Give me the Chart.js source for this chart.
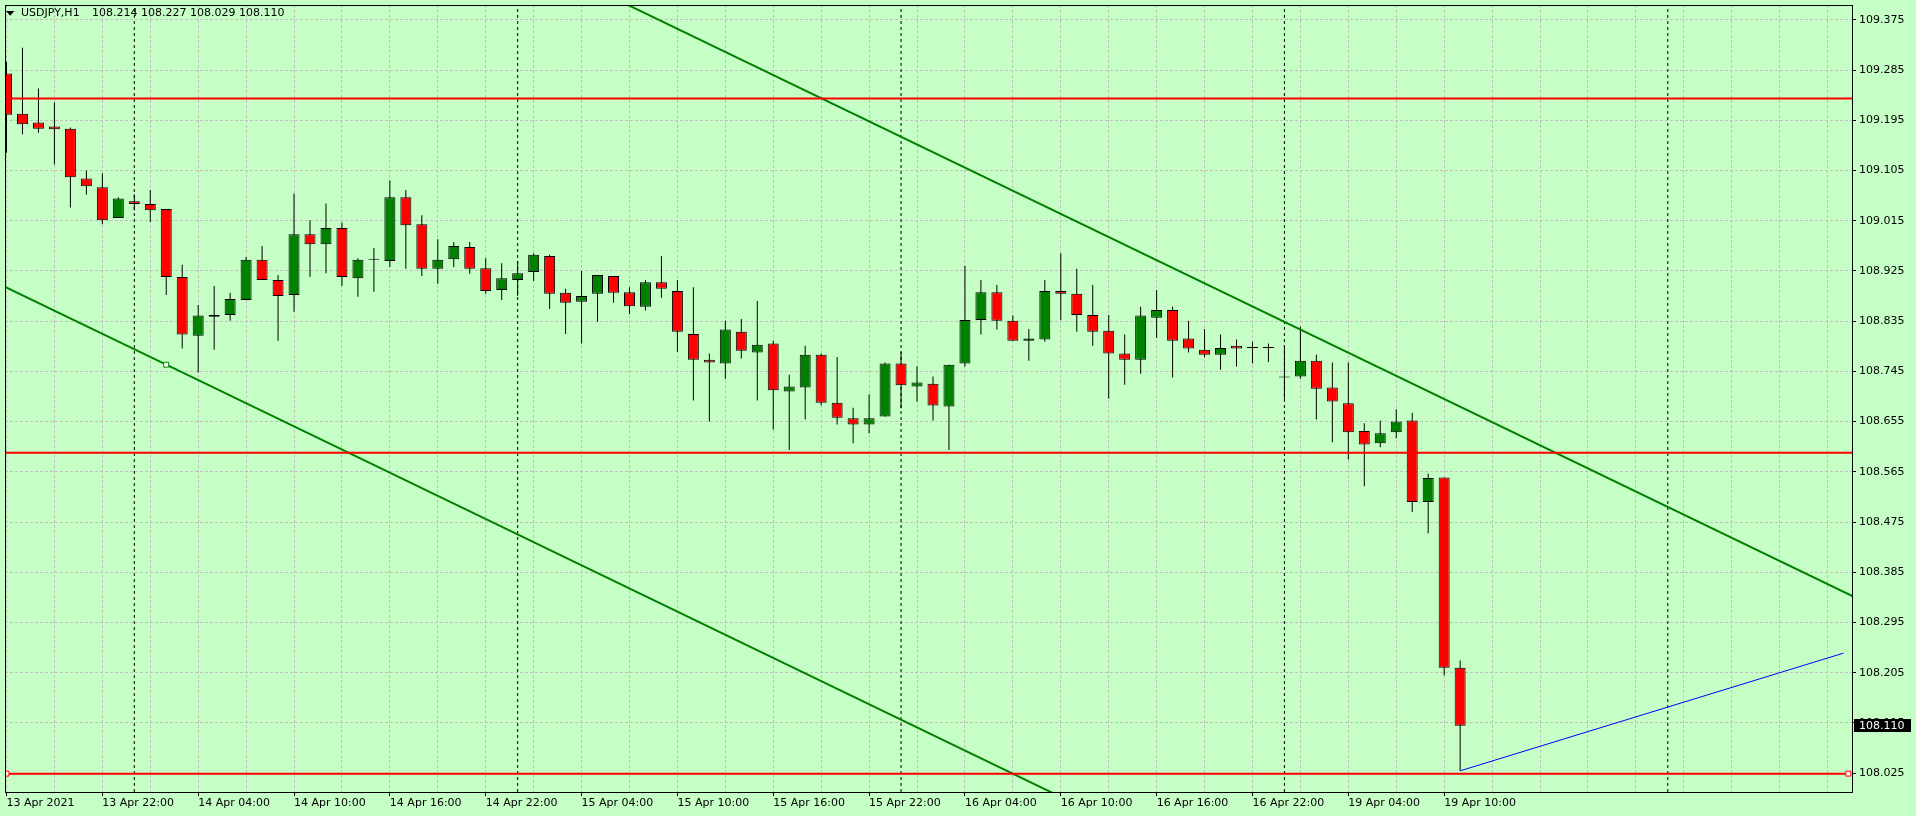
<!DOCTYPE html>
<html>
<head>
<meta charset="utf-8">
<script src="https://cdn.jsdelivr.net/npm/chart.js@4.4.1/dist/chart.umd.min.js"></script>
<style>
html,body{margin:0;padding:0;background:#c6ffc6;overflow:hidden;}
#wrap{position:relative;width:1916px;height:816px;}
canvas{display:block;}
.ttl{position:absolute;top:6px;font-family:'DejaVu Sans';font-size:11px;line-height:13px;color:#000;white-space:pre;}
#tri{left:6px;top:6px;font-size:11px;transform:scale(1,0.55);transform-origin:50% 55%;}
</style>
</head>
<body>
<div id="wrap">
<canvas id="c" width="1916" height="816"></canvas>
<div class="ttl" id="tri">▼</div>
<div class="ttl" id="sym" style="left:21px"></div>
<div class="ttl" id="ohlc" style="left:92px"></div>
</div>
<script>
// ---------- DATA ----------
const symbolName = 'USDJPY,H1';

// x-axis labels, one every 6 hourly bars (bar 0, 6, 12, ...)
const xTickLabels = ['13 Apr 2021','13 Apr 22:00','14 Apr 04:00','14 Apr 10:00','14 Apr 16:00','14 Apr 22:00',
  '15 Apr 04:00','15 Apr 10:00','15 Apr 16:00','15 Apr 22:00','16 Apr 04:00','16 Apr 10:00','16 Apr 16:00',
  '16 Apr 22:00','19 Apr 04:00','19 Apr 10:00'];

// price axis tick labels
const yTickValues = [109.375,109.285,109.195,109.105,109.015,108.925,108.835,108.745,108.655,
  108.565,108.475,108.385,108.295,108.205,108.115,108.025];

// hourly candles (bar index = position)
const opens = [109.279,109.207,109.191,109.184,109.180,109.091,109.075,109.020,109.050,109.045,
  109.036,108.914,108.809,108.843,108.846,108.873,108.945,108.909,108.882,108.991,
  108.973,109.002,108.912,108.945,108.943,109.057,109.009,108.929,108.946,108.968,
  108.930,108.891,108.909,108.923,108.952,108.886,108.870,108.884,108.916,108.887,
  108.861,108.905,108.889,108.812,108.766,108.759,108.816,108.779,108.795,108.709,
  108.716,108.775,108.689,108.661,108.650,108.664,108.759,108.718,108.723,108.682,
  108.759,108.837,108.887,108.836,108.800,108.802,108.889,108.884,108.846,108.818,
  108.777,108.766,108.841,108.855,108.804,108.784,108.775,108.791,108.787,108.787,
  108.734,108.736,108.764,108.716,108.688,108.638,108.616,108.636,108.657,108.511,
  108.555,108.214];
const highs = [109.300,109.325,109.252,109.227,109.182,109.105,109.100,109.057,109.062,109.070,
  109.036,108.936,108.864,108.898,108.886,108.950,108.970,108.918,109.064,109.016,
  109.046,109.012,108.948,108.966,109.087,109.070,109.025,108.982,108.977,108.977,
  108.948,108.939,108.943,108.957,108.954,108.893,108.925,108.918,108.916,108.896,
  108.909,108.952,108.909,108.896,108.777,108.836,108.839,108.871,108.800,108.739,
  108.791,108.777,108.771,108.680,108.704,108.761,108.780,108.754,108.736,108.757,
  108.934,108.909,108.900,108.845,108.821,108.909,108.957,108.929,108.900,108.846,
  108.811,108.861,108.891,108.861,108.836,108.821,108.811,108.802,108.798,108.795,
  108.791,108.825,108.775,108.761,108.761,108.652,108.657,108.677,108.671,108.562,
  108.555,108.227];
const lows = [109.137,109.170,109.173,109.116,109.039,109.062,109.009,109.020,109.034,109.013,
  108.882,108.786,108.743,108.784,108.836,108.873,108.909,108.800,108.852,108.914,
  108.921,108.898,108.879,108.888,108.932,108.929,108.916,108.902,108.932,108.920,
  108.884,108.873,108.880,108.907,108.857,108.812,108.795,108.834,108.868,108.848,
  108.854,108.877,108.780,108.693,108.655,108.732,108.768,108.693,108.641,108.604,
  108.659,108.684,108.650,108.616,108.634,108.664,108.679,108.691,108.657,108.604,
  108.754,108.811,108.820,108.800,108.764,108.798,108.837,108.816,108.791,108.696,
  108.721,108.741,108.805,108.734,108.779,108.770,108.748,108.754,108.759,108.762,
  108.696,108.732,108.659,108.618,108.587,108.539,108.609,108.625,108.493,108.455,
  108.200,108.029];
const closes = [109.205,109.188,109.180,109.179,109.093,109.077,109.016,109.055,109.045,109.034,
  108.914,108.811,108.845,108.846,108.875,108.945,108.909,108.880,108.991,108.973,
  109.002,108.914,108.945,108.945,109.057,109.007,108.929,108.945,108.970,108.929,
  108.889,108.912,108.921,108.954,108.884,108.868,108.880,108.918,108.886,108.862,
  108.905,108.893,108.816,108.766,108.761,108.820,108.782,108.793,108.711,108.718,
  108.775,108.689,108.662,108.650,108.661,108.759,108.720,108.725,108.684,108.757,
  108.837,108.887,108.836,108.800,108.804,108.889,108.884,108.846,108.816,108.777,
  108.766,108.845,108.855,108.800,108.786,108.775,108.787,108.786,108.787,108.787,
  108.734,108.764,108.714,108.691,108.636,108.614,108.634,108.655,108.511,108.554,
  108.214,108.110];

// drawn objects (bar index, price)
const resistanceLevels = [109.234, 108.599];
const supportLevel = 108.024;
const supportAnchors = [0, 115.3];
const upperChannel = [[30, 109.525], [116, 108.336]];
const lowerChannel = [[-1, 108.909], [10, 108.757], [70, 107.927]];
const projectionLine = [[91, 108.029], [115, 108.240]];
const daySeparators = [8, 32, 56, 80, 104];

// ---------- VIEW ----------
const X_MIN = -0.09375, X_MAX = 115.53125;
const Y_MIN = 107.99107, Y_MAX = 109.40179;
const GREEN = '#008000', RED = '#ff0000';

const last = closes.length - 1;
document.getElementById('sym').textContent = symbolName;
document.getElementById('ohlc').textContent =
  [opens[last], highs[last], lows[last], closes[last]].map(v => v.toFixed(3)).join(' ');

const idx = opens.map((_, i) => i);
const candleColor = i => closes[i] > opens[i] ? GREEN : (closes[i] < opens[i] ? RED : '#000000');

const datasets = [];
// candle bodies
datasets.push({
  type: 'bar', order: 2,
  data: idx.map(i => ({x: i, y: [opens[i], closes[i]]})),
  backgroundColor: ctx => candleColor(ctx.dataIndex),
  borderColor: '#000', borderWidth: 1, borderSkipped: false,
  barThickness: 11, grouped: false, minBarLength: 1, inflateAmount: 0
});
// wicks
datasets.push({
  type: 'bar', order: 3,
  data: idx.map(i => ({x: i, y: [lows[i], highs[i]]})),
  backgroundColor: '#000', borderWidth: 0,
  barThickness: 1, grouped: false, inflateAmount: 0
});
// day separators
daySeparators.forEach(d => datasets.push({
  type: 'line', order: 5,
  data: [{x: d, y: Y_MIN}, {x: d, y: Y_MAX}],
  borderColor: '#000', borderWidth: 1, borderDash: [3, 3], pointRadius: 0
}));
// horizontal levels
resistanceLevels.forEach(v => datasets.push({
  type: 'line', order: 0,
  data: [{x: X_MIN - 1, y: v}, {x: X_MAX + 1, y: v}],
  borderColor: RED, borderWidth: 2, pointRadius: 0
}));
datasets.push({
  type: 'line', order: 0,
  data: supportAnchors.map(a => ({x: a, y: supportLevel})),
  borderColor: RED, borderWidth: 2,
  pointStyle: 'rect', pointRadius: 3.5, pointBorderColor: RED, pointBorderWidth: 1,
  pointBackgroundColor: '#ffffff'
});
// channel
datasets.push({
  type: 'line', order: 0,
  data: upperChannel.map(p => ({x: p[0], y: p[1]})),
  borderColor: GREEN, borderWidth: 2, pointRadius: 0
});
datasets.push({
  type: 'line', order: 0,
  data: lowerChannel.map(p => ({x: p[0], y: p[1]})),
  borderColor: GREEN, borderWidth: 2,
  pointStyle: 'rect', pointRadius: [0, 3.5, 0], pointBorderColor: GREEN, pointBorderWidth: 1,
  pointBackgroundColor: '#ffffff'
});
datasets.push({
  type: 'line', order: 0,
  data: projectionLine.map(p => ({x: p[0], y: p[1]})),
  borderColor: '#0000ff', borderWidth: 1, pointRadius: 0
});

const gridBars = [];
for (let b = 0; b <= 114; b += 3) gridBars.push(b);
const labelFor = v => {
  const k = v / 6;
  return Number.isInteger(k) && k < xTickLabels.length ? xTickLabels[k] : '';
};

const framePlugin = {
  id: 'frame',
  afterDraw(chart) {
    const {ctx, chartArea: a, scales: {y}} = chart;
    ctx.save();
    ctx.setLineDash([]);
    ctx.strokeStyle = '#000';
    ctx.lineWidth = 1;
    ctx.strokeRect(Math.round(a.left) + 0.5, Math.round(a.top) + 0.5,
      Math.round(a.right - a.left), Math.round(a.bottom - a.top));
    const price = closes[last];
    const py = Math.round(y.getPixelForValue(price));
    ctx.fillStyle = '#000';
    ctx.fillRect(Math.round(a.right) + 2, py - 7, 57, 13);
    ctx.fillStyle = '#ffffff';
    ctx.font = "11px 'DejaVu Sans'";
    ctx.textBaseline = 'middle';
    ctx.textAlign = 'left';
    ctx.fillText(price.toFixed(3), Math.round(a.right) + 7, py);
    ctx.restore();
  }
};

Chart.defaults.font.family = "'DejaVu Sans'";
Chart.defaults.font.size = 11;
Chart.defaults.color = '#000';

new Chart(document.getElementById('c'), {
  type: 'bar',
  data: {datasets},
  plugins: [framePlugin],
  options: {
    responsive: false,
    animation: false,
    events: [],
    layout: {padding: {left: 2, top: 2, right: 0, bottom: 0}},
    plugins: {legend: {display: false}, tooltip: {enabled: false}, title: {display: false}},
    scales: {
      x: {
        type: 'linear', min: X_MIN, max: X_MAX, offset: false,
        afterBuildTicks: s => { s.ticks = gridBars.map(v => ({value: v})); },
        afterFit: s => { s.height = 24; s.paddingLeft = 0; s.paddingRight = 0; },
        ticks: {
          autoSkip: false, maxRotation: 0, minRotation: 0, align: 'start', padding: 1,
          font: {family: "'DejaVu Sans'", size: 11}, color: '#000',
          callback: v => labelFor(v)
        },
        grid: {
          offset: false, color: '#c0c0c0', lineWidth: 1, tickLength: 4,
          borderDash: [3, 2],
          tickColor: c => (c.tick && labelFor(c.tick.value) !== '') ? '#000' : 'rgba(0,0,0,0)',
          tickBorderDash: []
        },
        border: {display: true, color: '#000', width: 1, dash: [3, 2]}
      },
      y: {
        type: 'linear', position: 'right', min: Y_MIN, max: Y_MAX,
        afterBuildTicks: s => { s.ticks = yTickValues.map(v => ({value: v})); },
        afterFit: s => { s.width = 64; s.paddingTop = 0; s.paddingBottom = 0; },
        ticks: {
          autoSkip: false, padding: 3,
          font: {family: "'DejaVu Sans'", size: 11}, color: '#000',
          callback: v => Number(v).toFixed(3)
        },
        grid: {
          color: '#c0c0c0', lineWidth: 1, tickLength: 4, tickColor: '#000',
          borderDash: [3, 2], tickBorderDash: []
        },
        border: {display: true, color: '#000', width: 1, dash: [3, 2]}
      }
    }
  }
});
</script>
</body>
</html>
